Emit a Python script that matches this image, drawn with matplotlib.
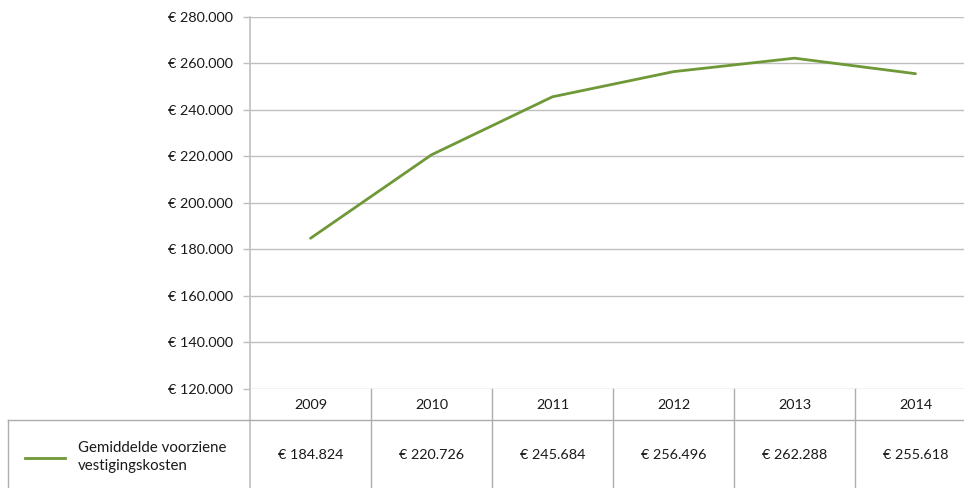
import matplotlib
matplotlib.use("Agg")
import matplotlib.pyplot as plt
from matplotlib.lines import Line2D

years = ["2009", "2010", "2011", "2012", "2013", "2014"]
values = [184824, 220726, 245684, 256496, 262288, 255618]
series_name = "Gemiddelde voorziene\nvestigingskosten"
y_ticks = [120000, 140000, 160000, 180000, 200000, 220000, 240000, 260000, 280000]

def euro(v):
    return "€ " + f"{v:,}".replace(",", ".")

plt.rcParams['font.family'] = ['Lato', 'DejaVu Sans']
LINE = '#6F9838'
GRID = '#BFBFBF'
TABLE = '#ADADAD'
TXT = '#1a1a1a'
FS = 10.4

fig = plt.figure(figsize=(9.64, 4.88), dpi=100)
W, H = 964, 488
left, right, top, bottom = 250, 976, 17, 389
ax = fig.add_axes([left / W, (H - bottom) / H, (right - left) / W, (bottom - top) / H])

x = list(range(len(years)))
ax.plot(x, values, color=LINE, lw=2.0, solid_capstyle='round', zorder=3)
ax.set_xlim(-0.5, len(years) - 0.5)
ax.set_ylim(y_ticks[0], y_ticks[-1])
ax.set_yticks(y_ticks)
ax.set_yticklabels([euro(v) for v in y_ticks], fontsize=FS, color=TXT)
ax.set_xticks([])
ax.tick_params(axis='y', length=5, width=1, color=GRID, pad=7)
for v in y_ticks:
    ax.axhline(v, color=GRID, lw=1, zorder=1)
for s in ['top', 'right', 'bottom', 'left']:
    ax.spines[s].set_visible(False)

ppu = (bottom - top)
def fy(py):
    return (bottom - py) / ppu

tr = ax.get_xaxis_transform()
y_head_mid = fy(405)
y_mid_line = fy(420)
y_val = fy(455)
y_bot = fy(490)
x_tab_left = -2.5

ax.add_line(Line2D([-0.5, -0.5], [1, y_bot], transform=tr, color=GRID, lw=1.2, clip_on=False))
for i in range(1, len(years) + 1):
    ax.add_line(Line2D([i - 0.5, i - 0.5], [0, y_bot], transform=tr, color=TABLE, lw=1, clip_on=False))
ax.add_line(Line2D([x_tab_left, len(years) - 0.5], [y_mid_line, y_mid_line], transform=tr,
                   color=TABLE, lw=1, clip_on=False))
ax.add_line(Line2D([x_tab_left, x_tab_left], [y_mid_line, y_bot], transform=tr,
                   color=TABLE, lw=1, clip_on=False))

for i, (yr, v) in enumerate(zip(years, values)):
    ax.text(i, y_head_mid, yr, transform=tr, ha='center', va='center', fontsize=FS, color=TXT)
    ax.text(i, y_val, euro(v), transform=tr, ha='center', va='center', fontsize=FS, color=TXT)

ax.add_line(Line2D([-2.36, -2.03], [fy(458), fy(458)], transform=tr, color=LINE, lw=2.0, clip_on=False))
ax.text(-1.92, fy(457), series_name, transform=tr, ha='left', va='center', fontsize=FS + 0.4,
        color=TXT, linespacing=1.3)

fig.savefig("out.png", dpi=100)
